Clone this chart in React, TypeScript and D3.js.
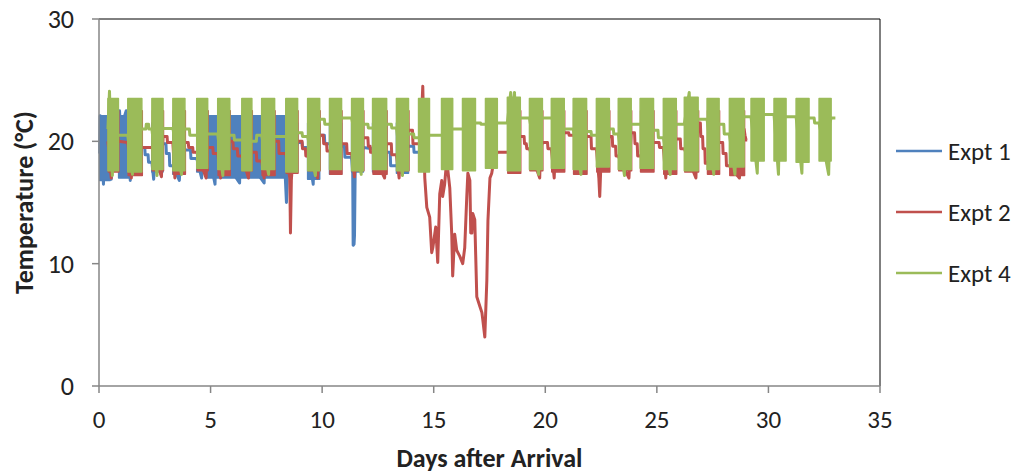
import React from "react";
import * as d3 from "d3";

// ---------- axis ticks ----------
const xTicks = [0, 5, 10, 15, 20, 25, 30, 35];
const yTicks = [0, 10, 20, 30];

// ---------- series meta ----------
const seriesNames = ["Expt 1", "Expt 2", "Expt 4"];
const seriesColors = ["#4F81BD", "#C0504D", "#9BBB59"];

// ---------- Expt 4 (green) : heating bursts (dense cycling) ----------
const e4BandStart = [0.40, 1.29, 2.37, 3.31, 4.38, 5.32, 6.40, 7.29, 8.37, 9.35, 10.33, 11.32, 12.26, 13.33, 14.32, 15.35, 16.29, 17.32, 18.30, 19.29, 20.27, 21.25, 22.29, 23.27, 24.25, 25.29, 26.23, 27.25, 28.25, 29.22, 30.25, 31.24, 32.27];
const e4BandEnd = [0.87, 1.92, 2.87, 3.85, 4.87, 5.86, 6.85, 7.87, 8.90, 9.89, 10.87, 11.85, 12.89, 13.87, 14.81, 15.85, 16.87, 17.85, 18.88, 19.87, 20.85, 21.85, 22.87, 23.85, 24.85, 25.87, 26.85, 27.79, 28.91, 29.81, 30.79, 31.82, 32.81];
const e4BandLow = [17.6, 17.5, 17.7, 17.6, 17.8, 17.7, 17.6, 17.7, 17.5, 17.6, 17.7, 17.6, 17.7, 17.6, 17.5, 17.7, 17.6, 17.8, 17.6, 17.7, 17.8, 17.7, 17.9, 17.7, 17.8, 17.7, 17.6, 17.7, 17.9, 18.4, 18.4, 18.3, 18.4];
const e4BandHigh = [23.5, 23.5, 23.5, 23.5, 23.5, 23.5, 23.5, 23.5, 23.5, 23.5, 23.5, 23.5, 23.5, 23.5, 23.5, 23.5, 23.5, 23.5, 23.6, 23.5, 23.5, 23.5, 23.5, 23.5, 23.5, 23.5, 23.6, 23.5, 23.5, 23.5, 23.5, 23.5, 23.5];
// resting trace between bursts (day, °C), incl. short excursions
const e4Line: [number, number][] = [
  [0.40, 21.0], [0.47, 24.1], [0.52, 21.0], [0.60, 17.2], [0.63, 21.0],
  [0.87, 20.5], [1.29, 20.5], [1.50, 17.3], [1.53, 20.5],
  [1.92, 21.0], [2.10, 21.0], [2.12, 21.4], [2.22, 21.4], [2.24, 21.0], [2.37, 21.0], [2.60, 17.2], [2.63, 21.0],
  [2.87, 21.05], [3.31, 21.05], [3.70, 17.3], [3.73, 21.0],
  [3.85, 21.0], [4.05, 21.0], [4.07, 20.5], [4.38, 20.5],
  [4.87, 20.6], [5.32, 20.6], [5.55, 17.2], [5.58, 20.6],
  [5.86, 20.5], [6.05, 20.5], [6.07, 20.1], [6.40, 20.1],
  [6.85, 20.0], [7.05, 20.0], [7.07, 20.5], [7.29, 20.5], [7.60, 17.3], [7.63, 20.5],
  [7.87, 20.4], [8.37, 20.4],
  [8.90, 20.7], [9.10, 20.7], [9.12, 20.4], [9.35, 20.4], [9.70, 17.2], [9.73, 20.4],
  [9.89, 21.8], [10.10, 21.8], [10.12, 21.4], [10.33, 21.4],
  [10.87, 21.9], [11.32, 21.9], [11.75, 17.3], [11.78, 21.9],
  [11.85, 21.4], [12.05, 21.4], [12.07, 21.1], [12.26, 21.1],
  [12.89, 21.4], [13.10, 21.4], [13.12, 21.1], [13.33, 21.1], [13.60, 17.2], [13.63, 21.1],
  [13.87, 20.6], [14.10, 20.6], [14.12, 20.3], [14.32, 20.3],
  [14.81, 20.5], [15.35, 20.5],
  [15.85, 21.0], [16.29, 21.0],
  [16.87, 21.5], [17.10, 21.5], [17.12, 21.4], [17.32, 21.4],
  [17.85, 21.5], [18.30, 21.5], [18.45, 24.0], [18.50, 21.5], [18.62, 24.0], [18.67, 21.5],
  [18.88, 21.9], [19.29, 21.9], [19.70, 17.3], [19.73, 21.9],
  [19.87, 21.9], [20.27, 21.9],
  [20.85, 21.0], [21.25, 21.0], [21.60, 17.3], [21.63, 21.0],
  [21.85, 20.8], [22.05, 20.8], [22.07, 20.5], [22.29, 20.5],
  [22.87, 21.0], [23.05, 21.0], [23.07, 20.6], [23.27, 20.6], [23.55, 17.2], [23.58, 20.6],
  [23.85, 21.4], [24.25, 21.4],
  [24.85, 20.9], [25.05, 20.9], [25.07, 20.3], [25.29, 20.3], [25.60, 17.3], [25.63, 20.3],
  [25.87, 21.4], [26.23, 21.4], [26.45, 24.0], [26.50, 21.4],
  [26.85, 21.8], [27.25, 21.8], [27.55, 17.3], [27.58, 21.8],
  [27.79, 21.4], [28.00, 21.4], [28.02, 20.6], [28.25, 20.6], [28.50, 17.3], [28.55, 20.6],
  [28.91, 22.0], [29.22, 22.0], [29.50, 17.4], [29.55, 22.0],
  [29.81, 22.2], [30.25, 22.2], [30.45, 17.3], [30.50, 22.2],
  [30.79, 22.0], [31.24, 22.0], [31.50, 17.4], [31.55, 22.0],
  [31.82, 21.9], [32.05, 21.9], [32.07, 21.5], [32.27, 21.5], [32.70, 17.3], [32.75, 21.5],
  [32.81, 21.9], [33.0, 21.9],
];

// ---------- Expt 2 (red) ----------
const e2BandStart = [0.42, 1.31, 2.39, 3.33, 4.40, 5.34, 6.42, 7.31, 8.39, 9.37, 10.35, 11.34, 12.28, 13.35, 18.32, 19.31, 20.29, 21.27, 22.31, 23.29, 24.27, 25.31, 26.25, 27.27, 28.27];
const e2BandEnd = [0.89, 1.94, 2.89, 3.87, 4.89, 5.88, 6.87, 7.89, 8.92, 9.91, 10.89, 11.87, 12.91, 13.89, 18.90, 19.89, 20.87, 21.87, 22.89, 23.87, 24.87, 25.89, 26.87, 27.81, 28.93];
const e2BandLow = [17.5, 17.2, 17.6, 17.3, 17.6, 17.2, 17.6, 17.2, 17.4, 17.6, 17.3, 17.6, 17.3, 17.6, 17.4, 17.6, 17.5, 17.3, 17.5, 17.6, 17.5, 17.3, 17.5, 17.3, 17.2];
const e2BandHigh = [22.5, 22.5, 22.5, 22.5, 22.5, 22.5, 22.5, 22.5, 22.5, 22.5, 22.5, 22.5, 22.5, 22.5, 22.5, 22.5, 22.5, 22.5, 22.5, 22.5, 22.5, 22.5, 22.5, 22.5, 22.5];
const e2Line: [number, number][] = [
  [0.40, 20.0], [0.55, 17.0], [0.58, 20.0], [0.87, 20.0], [1.29, 19.9], [1.45, 17.0], [1.50, 19.9],
  [1.92, 19.5], [2.37, 19.5], [2.80, 17.1], [2.84, 19.5],
  [2.87, 20.4], [3.05, 20.4], [3.07, 19.9], [3.31, 19.9], [3.40, 17.0], [3.44, 19.9],
  [3.85, 19.9], [4.00, 19.9], [4.02, 19.5], [4.20, 19.5], [4.22, 19.1], [4.38, 19.1], [4.80, 17.0], [4.84, 19.1],
  [4.87, 19.5], [5.10, 19.5], [5.12, 19.0], [5.32, 19.0], [5.45, 17.0], [5.50, 19.0],
  [5.86, 20.0], [6.00, 20.0], [6.02, 19.4], [6.20, 19.4], [6.22, 18.8], [6.40, 18.8], [6.70, 17.0], [6.74, 18.8],
  [6.85, 19.1], [7.05, 19.1], [7.07, 18.4], [7.29, 18.4], [7.40, 17.0], [7.44, 18.4],
  [7.87, 20.0], [8.05, 20.0], [8.07, 19.0], [8.37, 19.0], [8.55, 17.0], [8.58, 12.5], [8.62, 16.8], [8.70, 19.0],
  [8.90, 20.0], [9.10, 20.0], [9.12, 19.4], [9.25, 19.4], [9.27, 18.8], [9.35, 18.8], [9.80, 17.0], [9.84, 18.8],
  [9.89, 20.5], [10.05, 20.5], [10.07, 19.8], [10.20, 19.8], [10.22, 19.2], [10.33, 19.2],
  [10.87, 19.8], [11.10, 19.8], [11.12, 19.0], [11.32, 19.0], [11.45, 17.1], [11.50, 19.0],
  [11.85, 20.3], [12.05, 20.3], [12.07, 19.6], [12.15, 19.6], [12.17, 19.1], [12.26, 19.1], [12.80, 17.0], [12.84, 19.1],
  [12.89, 19.8], [13.10, 19.8], [13.12, 18.9], [13.33, 18.9], [13.45, 17.0], [13.50, 18.9],
  [13.87, 20.9], [14.05, 20.9], [14.07, 19.8], [14.40, 19.8],
  [14.51, 24.5], [14.60, 17.0], [14.69, 14.6], [14.82, 13.8], [14.91, 10.9], [14.96, 11.3],
  [15.09, 13.0], [15.18, 10.1], [15.27, 15.7], [15.36, 16.8], [15.40, 15.5], [15.49, 16.5],
  [15.58, 18.4], [15.63, 17.7], [15.72, 16.2], [15.81, 12.3], [15.85, 9.0], [15.94, 12.4],
  [16.03, 11.1], [16.17, 10.6], [16.30, 10.0], [16.39, 11.3], [16.48, 15.4], [16.53, 17.4],
  [16.62, 16.8], [16.66, 12.5], [16.71, 12.5], [16.75, 14.1], [16.84, 13.6], [16.93, 7.3],
  [17.07, 6.5], [17.16, 6.0], [17.20, 5.4], [17.29, 4.0], [17.38, 8.6], [17.43, 13.5],
  [17.52, 17.0], [17.60, 17.4], [17.70, 18.5], [17.85, 19.1], [18.30, 19.1],
  [18.88, 20.4], [19.05, 20.4], [19.07, 19.8], [19.15, 19.8], [19.17, 19.4], [19.29, 19.4], [19.75, 17.0], [19.79, 19.4],
  [19.87, 19.9], [20.10, 19.9], [20.12, 19.4], [20.27, 19.4], [20.40, 17.0], [20.45, 19.4],
  [20.85, 20.7], [21.05, 20.7], [21.07, 20.5], [21.25, 20.5],
  [21.85, 20.4], [22.05, 20.4], [22.07, 19.4], [22.29, 19.4], [22.40, 17.0], [22.44, 15.5], [22.48, 17.5],
  [22.87, 20.4], [23.00, 20.4], [23.02, 19.6], [23.15, 19.6], [23.17, 18.8], [23.27, 18.8], [23.75, 17.0], [23.79, 18.8],
  [23.85, 20.7], [24.00, 20.7], [24.02, 19.8], [24.12, 19.8], [24.14, 18.8], [24.25, 18.8],
  [24.85, 19.9], [25.10, 19.9], [25.12, 19.5], [25.29, 19.5], [25.40, 17.0], [25.44, 19.5],
  [25.87, 20.2], [26.05, 20.2], [26.07, 19.4], [26.23, 19.4], [26.75, 17.0], [26.79, 19.4],
  [26.85, 21.5], [26.95, 21.5], [26.97, 20.4], [27.05, 20.4], [27.07, 19.4], [27.15, 19.4], [27.17, 18.2], [27.25, 18.2],
  [27.79, 19.9], [27.95, 19.9], [27.97, 19.0], [28.10, 19.0], [28.12, 18.0], [28.25, 18.0], [28.70, 17.0], [28.74, 18.0],
  [28.91, 21.0], [28.95, 20.5], [29.00, 20.1], [29.05, 20.1],
];

// ---------- Expt 1 (blue) ----------
const e1BandStart = [0.03, 0.88, 1.29, 2.37, 3.31, 4.38, 4.85, 8.37, 9.35, 10.33, 11.32, 12.26, 13.33];
const e1BandEnd = [0.50, 1.33, 1.92, 2.87, 3.85, 4.87, 8.35, 8.90, 9.89, 10.87, 11.85, 12.89, 13.87];
const e1BandLow = [16.8, 17.0, 17.4, 17.5, 17.3, 17.5, 17.0, 17.5, 16.9, 17.3, 17.5, 17.5, 17.4];
const e1BandHigh = [22.1, 22.1, 21.5, 21.5, 21.5, 21.5, 22.1, 21.5, 21.5, 21.5, 21.5, 21.5, 21.5];
const e1Line: [number, number][] = [
  [0.03, 19.0], [0.05, 22.1], [0.20, 16.5], [0.24, 20.0],
  [0.50, 18.6], [0.55, 16.9], [0.58, 18.6], [0.70, 18.6], [0.72, 18.2], [0.88, 18.2], [0.92, 22.5], [0.96, 21.0], [1.22, 22.5], [1.26, 21.0],
  [1.40, 16.8], [1.44, 19.5], [1.92, 19.5], [2.05, 19.5], [2.07, 18.9], [2.20, 18.9], [2.22, 18.3], [2.37, 18.3], [2.45, 16.9], [2.49, 18.3],
  [2.87, 19.8], [3.00, 19.8], [3.02, 19.0], [3.15, 19.0], [3.17, 18.0], [3.31, 18.0], [3.60, 16.8], [3.64, 18.0],
  [3.85, 19.3], [4.10, 19.3], [4.12, 18.6], [4.38, 18.6], [4.60, 17.0], [4.64, 18.6],
  [4.87, 19.5], [5.20, 16.5], [5.24, 19.5], [6.30, 16.6], [6.34, 19.3], [7.40, 16.6], [7.44, 19.1],
  [8.30, 19.0], [8.40, 15.0], [8.45, 17.5],
  [8.90, 19.9], [9.10, 19.9], [9.12, 19.5], [9.35, 19.5], [9.60, 16.5], [9.64, 19.5],
  [9.89, 20.5], [10.10, 20.5], [10.12, 19.8], [10.33, 19.8],
  [10.87, 19.6], [11.00, 19.6], [11.02, 18.7], [11.32, 18.7],
  [11.37, 17.5], [11.39, 11.5], [11.43, 11.6], [11.45, 12.3], [11.48, 17.5],
  [11.85, 19.5], [12.26, 19.4],
  [12.89, 19.1], [13.05, 19.1], [13.07, 18.0], [13.33, 18.0],
  [13.87, 19.6], [14.10, 19.6], [14.12, 19.1], [14.33, 19.1],
];

type Series = {
  color: string;
  line: [number, number][];
  bs: number[];
  be: number[];
  bl: number[];
  bh: number[];
};

const series: Series[] = [
  { color: seriesColors[0], line: e1Line, bs: e1BandStart, be: e1BandEnd, bl: e1BandLow, bh: e1BandHigh },
  { color: seriesColors[1], line: e2Line, bs: e2BandStart, be: e2BandEnd, bl: e2BandLow, bh: e2BandHigh },
  { color: seriesColors[2], line: e4Line, bs: e4BandStart, be: e4BandEnd, bl: e4BandLow, bh: e4BandHigh },
];

const FONT = "Carlito, Lato, 'Open Sans', sans-serif";

export default function App() {
  const W = 1026;
  const H = 475;
  const x = d3.scaleLinear().domain([0, 35]).range([99, 880]);
  const y = d3.scaleLinear().domain([0, 30]).range([386, 19]);
  const line = d3
    .line<[number, number]>()
    .x((d) => x(d[0]))
    .y((d) => y(d[1]));

  const legendY = [151, 212, 273];

  return (
    <div style={{ position: "absolute", left: 0, top: 0 }}>
      <svg width={W} height={H} style={{ display: "block", background: "#fff" }} fontFamily={FONT}>
        {/* plot border top/right */}
        <line x1={x(0)} x2={x(35)} y1={y(30)} y2={y(30)} stroke="#000" strokeWidth={1} />
        <line x1={x(35)} x2={x(35)} y1={y(30)} y2={y(0)} stroke="#000" strokeWidth={1} />

        {/* series */}
        {series.map((s, si) => (
          <g key={si}>
            <path d={line(s.line) || ""} fill="none" stroke={s.color} strokeWidth={3} strokeLinejoin="round" />
            {s.bs.map((st, i) => (
              <rect
                key={i}
                x={x(st)}
                y={y(s.bh[i])}
                width={x(s.be[i]) - x(st)}
                height={y(s.bl[i]) - y(s.bh[i])}
                fill={s.color}
                stroke={s.color}
                strokeWidth={1.5}
                strokeLinejoin="round"
              />
            ))}
          </g>
        ))}

        {/* axes */}
        <line x1={x(0)} x2={x(0)} y1={y(30)} y2={y(0)} stroke="#868686" strokeWidth={1.5} />
        <line x1={x(0)} x2={x(35)} y1={y(0)} y2={y(0)} stroke="#868686" strokeWidth={1.5} />
        {yTicks.map((t) => (
          <g key={"y" + t}>
            <line x1={x(0) - 7} x2={x(0)} y1={y(t)} y2={y(t)} stroke="#868686" strokeWidth={1.5} />
            <text x={74} y={y(t)} dy="0.35em" textAnchor="end" fontSize={26} fill="#222">
              {t}
            </text>
          </g>
        ))}
        {xTicks.map((t) => (
          <g key={"x" + t}>
            <line x1={x(t)} x2={x(t)} y1={y(0)} y2={y(0) + 7} stroke="#868686" strokeWidth={1.5} />
            <text x={x(t)} y={428} textAnchor="middle" fontSize={25} fill="#222">
              {t}
            </text>
          </g>
        ))}

        {/* axis titles */}
        <text x={(x(0) + x(35)) / 2} y={467} textAnchor="middle" fontSize={26} fontWeight="bold" fill="#222">
          Days after Arrival
        </text>
        <text
          transform={`translate(33, ${(y(0) + y(30)) / 2}) rotate(-90)`}
          textAnchor="middle"
          fontSize={26}
          fontWeight="bold"
          fill="#222"
        >
          Temperature (°C)
        </text>

        {/* legend */}
        {seriesNames.map((n, i) => (
          <g key={n}>
            <line x1={896} x2={942} y1={legendY[i]} y2={legendY[i]} stroke={seriesColors[i]} strokeWidth={2.5} />
            <text x={948} y={legendY[i]} dy="0.35em" fontSize={25} fill="#222">
              {n}
            </text>
          </g>
        ))}
      </svg>
    </div>
  );
}
